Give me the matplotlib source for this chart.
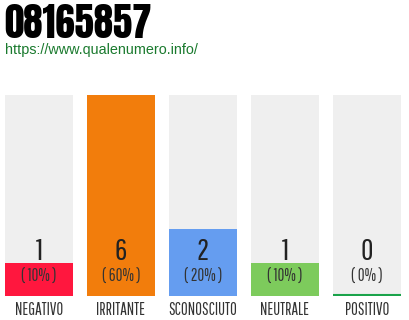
import matplotlib
matplotlib.use("Agg")
import matplotlib.pyplot as plt

categories = ["NEGATIVO", "IRRITANTE", "SCONOSCIUTO", "NEUTRALE", "POSITIVO"]
counts = [1, 6, 2, 1, 0]
percents = ["10%", "60%", "20%", "10%", "0%"]
colors = ["#ff173e", "#f27d0c", "#659df0", "#7dcb5c", "#1aa34a"]

thin = "Pathway Gothic One"

fig = plt.figure(figsize=(4.1, 3.2), dpi=100)
# titolo e link
fig.text(4 / 410, 1 - 38 / 320, "08165857", ha="left", va="baseline",
         fontsize=28, family="Anton", color="black")
fig.text(5 / 410, 1 - 50 / 320, "https://www.qualenumero.info/", ha="left", va="center",
         fontsize=10.4, family="Liberation Sans", color="#1a7a2e")

ax = fig.add_axes([5 / 410, 1 - 296 / 320, 396 / 410, 201 / 320])
top = max(counts)
x = range(len(categories))
w = 68 / 82
ax.bar(x, [top] * len(categories), width=w, color="#efefef")
ax.bar(x, counts, width=w, color=colors)
for i, (c, p) in enumerate(zip(counts, percents)):
    if c == 0:
        ax.plot([i - w / 2, i + w / 2], [0.03, 0.03], color=colors[i], lw=1.5,
                solid_capstyle="butt")
    ax.text(i, 1.32, str(c), ha="center", va="center", fontsize=22,
            family=thin, color="#222222")
    ax.text(i, 0.57, "( %s )" % p, ha="center", va="center", fontsize=12,
            family=thin, color="#333333")
ax.set_xlim(-0.5 + (1 - w) / 2, len(categories) - 0.5 - (1 - w) / 2)
ax.set_ylim(0, top)
ax.set_xticks(list(x))
ax.set_xticklabels(categories, family=thin, fontsize=12, color="#333333")
ax.tick_params(axis="x", length=0, pad=4)
ax.set_yticks([])
for s in ax.spines.values():
    s.set_visible(False)

fig.savefig("out.png", dpi=100)
